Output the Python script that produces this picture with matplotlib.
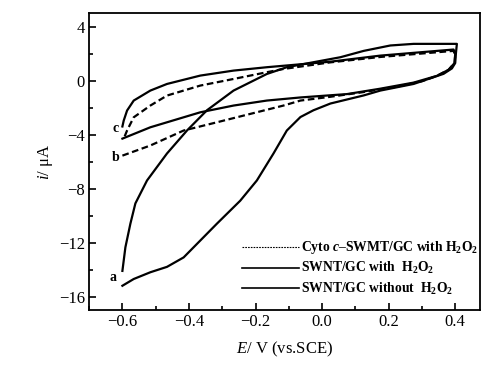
import matplotlib
matplotlib.use("Agg")
import matplotlib.pyplot as plt
from matplotlib.lines import Line2D
from matplotlib.ticker import MultipleLocator

plt.rcParams["font.family"] = ["Liberation Serif", "DejaVu Serif"]
plt.rcParams["mathtext.fontset"] = "custom"
plt.rcParams["mathtext.rm"] = "Liberation Serif"
plt.rcParams["mathtext.it"] = "Liberation Serif:italic"
plt.rcParams["mathtext.bf"] = "Liberation Serif:bold"
plt.rcParams["mathtext.bfit"] = "Liberation Serif:bold:italic"

# curve a: SWNT/GC with H2O2 (cathodic branch then anodic branch)
a_x = [-0.600, -0.566, -0.516, -0.466, -0.416, -0.366, -0.316, -0.246, -0.196, -0.146,
       -0.106, -0.065, -0.026, 0.025, 0.125, 0.175, 0.275, 0.365, 0.390, 0.400,
       0.402, 0.405,
       0.275, 0.205, 0.125, 0.055, -0.026, -0.106, -0.166, -0.266, -0.346, -0.406,
       -0.466, -0.526, -0.561, -0.576, -0.591, -0.600]
a_y = [-15.2, -14.7, -14.2, -13.8, -13.1, -11.85, -10.6, -8.9, -7.4, -5.4,
       -3.7, -2.7, -2.2, -1.7, -1.1, -0.74, -0.25, 0.5, 0.9, 1.3,
       2.0, 2.72,
       2.72, 2.6, 2.2, 1.73, 1.36, 0.99, 0.49, -0.74, -2.2, -3.7,
       -5.4, -7.4, -9.1, -10.6, -12.35, -14.1]

# curve b: Cyto c-SWNT/GC with H2O2 (dashed)
b_x = [-0.600, -0.516, -0.416, -0.316, -0.216, -0.116, -0.065, 0.025, 0.125, 0.225,
       0.300, 0.345, 0.380, 0.398, 0.400,
       0.395, 0.175, 0.025, -0.116, -0.166, -0.266, -0.366, -0.466, -0.516, -0.566,
       -0.586, -0.596]
b_y = [-5.56, -4.81, -3.7, -3.09, -2.47, -1.85, -1.48, -1.2, -0.85, -0.45,
       -0.05, 0.35, 0.8, 1.3, 1.9,
       2.2, 1.75, 1.35, 0.86, 0.62, 0.12, -0.37, -1.11, -1.85, -2.72,
       -3.7, -4.3]

# curve c: SWNT/GC without H2O2
c_x = [-0.600, -0.516, -0.416, -0.366, -0.266, -0.166, -0.065, 0.075, 0.175, 0.275,
       0.345, 0.380, 0.398, 0.400,
       0.395, 0.175, 0.025, -0.166, -0.266, -0.366, -0.466, -0.516, -0.566, -0.586,
       -0.596, -0.600]
c_y = [-4.3, -3.46, -2.72, -2.35, -1.85, -1.48, -1.25, -1.0, -0.6, -0.15,
       0.35, 0.8, 1.3, 2.0,
       2.3, 1.85, 1.4, 0.99, 0.74, 0.37, -0.25, -0.74, -1.48, -2.22,
       -2.96, -3.4]

legend_labels = ["Cyto $\\mathbfit{c}$\u2013SWMT/GC with H$_\\mathbf{2}$O$_\\mathbf{2}$",
                 "SWNT/GC with  H$_\\mathbf{2}$O$_\\mathbf{2}$",
                 "SWNT/GC without  H$_\\mathbf{2}$O$_\\mathbf{2}$"]

fig = plt.figure(figsize=(4.87, 3.74), dpi=100)
ax = fig.add_axes([0.183, 0.171, 0.803, 0.794])

ax.plot(a_x, a_y, color="black", lw=1.6, solid_joinstyle="round")
ax.plot(b_x, b_y, color="black", lw=1.6, linestyle=(0, (3, 1.6)))
ax.plot(c_x, c_y, color="black", lw=1.6, solid_joinstyle="round")

ax.text(-0.627, -14.6, "a", fontsize=10, fontweight="bold", ha="center", va="center")
ax.text(-0.621, -5.7, "b", fontsize=10, fontweight="bold", ha="center", va="center")
ax.text(-0.621, -3.56, "c", fontsize=10, fontweight="bold", ha="center", va="center")

ax.set_xlim(-0.7, 0.475)
ax.set_ylim(-17, 5)
ax.xaxis.set_minor_locator(MultipleLocator(0.1))
ax.yaxis.set_major_locator(MultipleLocator(4))
ax.yaxis.set_minor_locator(MultipleLocator(2))
ax.set_xticks([-0.6, -0.4, -0.2, 0.0, 0.2, 0.4])
ax.set_xticklabels(["\u22120.6", "\u22120.4", "\u22120.2", "0.0", "0.2", "0.4"])
ax.tick_params(which="both", direction="in", top=False, right=False, labelsize=12,
               width=1.2, pad=3)
ax.tick_params(which="major", length=5)
ax.tick_params(which="minor", length=3)
for s in ax.spines.values():
    s.set_linewidth(1.3)

ax.set_xlabel("$E$/ V (vs.SCE)", fontsize=12, labelpad=7)
ax.set_ylabel("$i$/ \u03bcA", fontsize=12, labelpad=3)

handles = [Line2D([], [], color="black", lw=0.8, linestyle=(0, (1.5, 1))),
           Line2D([], [], color="black", lw=1.2),
           Line2D([], [], color="black", lw=1.2)]
leg = ax.legend(handles, legend_labels, loc="lower left", frameon=False,
                prop={"size": 9.8, "weight": "bold"},
                handlelength=4.2, handletextpad=0.15, labelspacing=0.3,
                borderpad=0, borderaxespad=0, bbox_to_anchor=(0.39, 0.045))

fig.savefig("out.png", dpi=100)
